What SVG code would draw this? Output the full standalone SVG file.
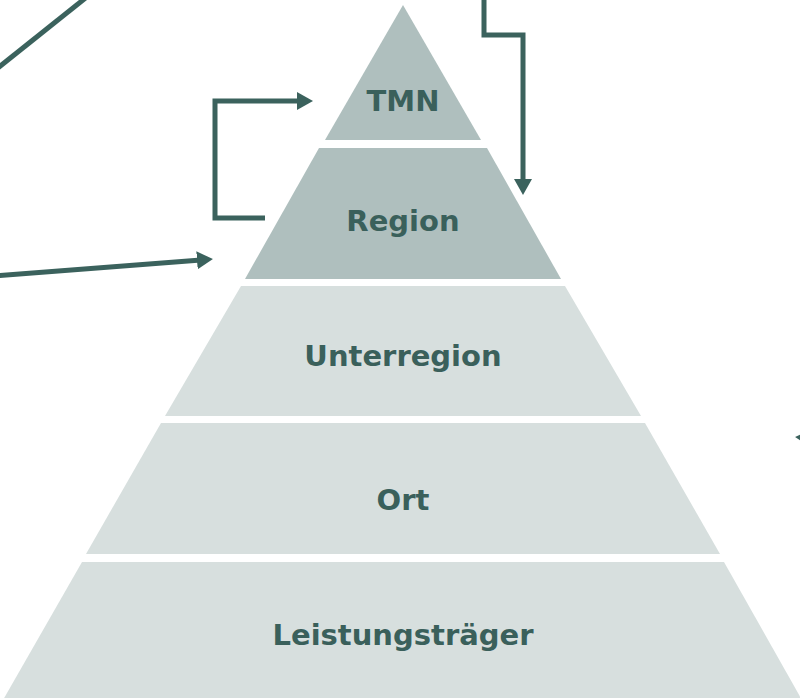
<svg xmlns="http://www.w3.org/2000/svg" width="800" height="698" viewBox="0 0 800 698">
<defs>
<style>
.dark{fill:#afbfbe}
.light{fill:#d7dfde}
.lbl{font-family:"DejaVu Sans",Verdana,sans-serif;font-weight:bold;font-size:29px;fill:#3a605b;text-anchor:middle}
.conn{fill:none;stroke:#3b625d;stroke-width:5;stroke-linejoin:miter}
</style>
<marker id="ah" viewBox="0 0 16 18" refX="4" refY="9" markerWidth="16" markerHeight="18" markerUnits="userSpaceOnUse" orient="auto">
<path d="M0,0 L16,9 L0,18 z" fill="#3b625d"/>
</marker>
</defs>
<rect width="800" height="698" fill="#ffffff"/>
<g id="tmn">
<polygon class="dark" points="403,5 481,140 325,140"/>
<text class="lbl" x="403" y="111">TMN</text>
</g>
<g id="region">
<polygon class="dark" points="319,148 487,148 561,279 245,279"/>
<text class="lbl" x="403" y="231">Region</text>
</g>
<g id="unterregion">
<polygon class="light" points="241,286 565,286 641,416 165,416"/>
<text class="lbl" x="403" y="366">Unterregion</text>
</g>
<g id="ort">
<polygon class="light" points="161,423 645,423 720,554 86,554"/>
<text class="lbl" x="403" y="510">Ort</text>
</g>
<g id="leistungstraeger">
<polygon class="light" points="82,562 724,562 802,700 3,700"/>
<text class="lbl" x="403" y="645">Leistungsträger</text>
</g>
<g id="connectors">
<line class="conn" x1="-6" y1="71" x2="88" y2="-4"/>
<path class="conn" d="M484,-5 V35 H523 V183" marker-end="url(#ah)"/>
<path class="conn" d="M265,218 H215 V101 H301" marker-end="url(#ah)"/>
<path class="conn" d="M-5,276 L201,260" marker-end="url(#ah)"/>
<path class="conn" d="M840,441 L807,438" marker-end="url(#ah)"/>
</g>
</svg>
